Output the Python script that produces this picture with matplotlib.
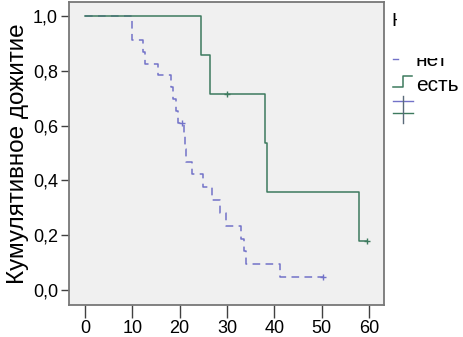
import matplotlib
matplotlib.use("Agg")
import matplotlib.pyplot as plt
from matplotlib.lines import Line2D
from matplotlib.patches import Rectangle

plt.rcParams['font.family'] = ['Liberation Sans', 'DejaVu Sans']

# группа "нет": моменты событий и кумулятивное дожитие после них
no_times = [0, 10.0, 12.2, 12.7, 15.5, 18.2, 18.6, 19.3, 19.6, 21.0, 21.2, 21.4,
            22.5, 25.0, 26.8, 28.5, 29.7, 33.0, 33.5, 34.0, 41.2]
no_surv = [1.0, 0.913, 0.870, 0.826, 0.783, 0.739, 0.696, 0.652, 0.609, 0.562,
           0.515, 0.468, 0.422, 0.375, 0.328, 0.281, 0.234, 0.187, 0.141, 0.094, 0.047]
no_cens_t = [20.4, 50.2]
no_cens_s = [0.609, 0.047]

# группа "есть"
yes_times = [0, 24.5, 26.5, 38.0, 38.5, 58.0]
yes_surv = [1.0, 0.857, 0.714, 0.536, 0.357, 0.179]
yes_cens_t = [30.0, 59.7]
yes_cens_s = [0.714, 0.179]

yticks = [0.0, 0.2, 0.4, 0.6, 0.8, 1.0]
xticks = [0, 10, 20, 30, 40, 50, 60]

c_no = '#7272c8'
c_yes = '#3d7a5e'

W, H = 464, 337
fig = plt.figure(figsize=(W / 100, H / 100), dpi=100)
ax = fig.add_axes([69 / W, 1 - 305 / H, (384 - 69) / W, (305 - 2) / H])
ax.set_facecolor('#f0f0f0')

ax.plot(no_times + [no_cens_t[-1]], no_surv + [no_surv[-1]], drawstyle='steps-post',
        color=c_no, lw=1.1, dashes=(5, 3.5))
ax.plot(no_cens_t, no_cens_s, '+', color=c_no, ms=5, mew=1)
ax.plot(yes_times + [yes_cens_t[-1]], yes_surv + [yes_surv[-1]], drawstyle='steps-post',
        color=c_yes, lw=1.1)
ax.plot(yes_cens_t, yes_cens_s, '+', color=c_yes, ms=5, mew=1)

ax.set_xlim(-3.4, 63.2)
ax.set_ylim(-0.055, 1.051)
ax.set_xticks(xticks)
ax.set_yticks(yticks)
ax.set_yticklabels([f"{v:.1f}".replace('.', ',') for v in yticks])
ax.tick_params(axis='x', length=9, width=1, color='#404040', labelsize=13, pad=2)
ax.tick_params(axis='y', length=6, width=1, color='#404040', labelsize=13, pad=2)
for s in ax.spines.values():
    s.set_color('#777777')
    s.set_linewidth(1.3)
ax.set_ylabel('Кумулятивное дожитие', fontsize=17.5, labelpad=3)


def px(x, y):
    return x / W, 1 - y / H


# легенда справа (частично обрезана)
fig.text(*px(391, 22), 'Н', fontsize=14, va='center', ha='left')
fig.text(*px(416, 60), 'нет', fontsize=15, va='center', ha='left')
fig.add_artist(Rectangle(px(397, 58), (W - 397) / W, 58 / H, transform=fig.transFigure,
                         facecolor='white', edgecolor='none', zorder=5))
fig.text(*px(416, 86), 'есть', fontsize=15, va='center', ha='left')

fig.add_artist(Line2D([px(393, 0)[0], px(398, 0)[0]], [px(0, 59)[1]] * 2,
                      transform=fig.transFigure, color=c_no, lw=1))
fig.add_artist(Line2D([px(393, 0)[0], px(403, 0)[0], px(403, 0)[0], px(412, 0)[0]],
                      [px(0, 87)[1], px(0, 87)[1], px(0, 76)[1], px(0, 76)[1]],
                      transform=fig.transFigure, color=c_yes, lw=1.1))
fig.add_artist(Line2D([px(393, 0)[0], px(413, 0)[0]], [px(0, 101)[1]] * 2,
                      transform=fig.transFigure, color=c_no, lw=1))
fig.add_artist(Line2D([px(393, 0)[0], px(413, 0)[0]], [px(0, 113)[1]] * 2,
                      transform=fig.transFigure, color=c_yes, lw=1))
fig.add_artist(Line2D([px(403, 0)[0]] * 2, [px(0, 96)[1], px(0, 123)[1]],
                      transform=fig.transFigure, color='#5a6a7a', lw=1))

fig.savefig('out.png', dpi=100)
